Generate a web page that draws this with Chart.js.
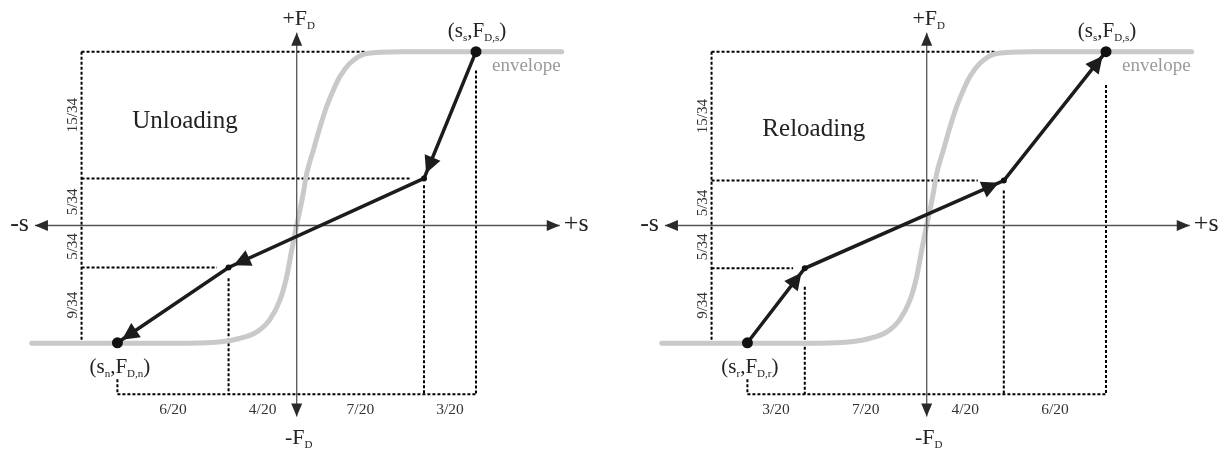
<!DOCTYPE html>
<html><head><meta charset="utf-8">
<script src="https://cdn.jsdelivr.net/npm/chart.js@4.4.0/dist/chart.umd.min.js"></script>
<style>
html,body{margin:0;padding:0;background:#fff;width:1227px;height:452px;overflow:hidden}
canvas{position:absolute;top:0}
#c1{left:0}#c2{left:613px}
</style></head><body>
<canvas id="c1" width="613" height="452"></canvas>
<canvas id="c2" width="614" height="452"></canvas>
<script>
// ---- data (s in units of 1/20, F_D in units of 1/34) ----
const envS = [-14.78, -6.0, -4.1, -3.2, -2.2, -1.5, -0.93, -0.56, -0.28, 0, 0.18, 0.37, 0.56, 0.93, 1.3, 1.67, 2.04, 2.41, 2.97, 3.9, 5.8, 14.78];
const envF = [-13.75, -13.75, -13.55, -13.2, -12.4, -11.0, -8.7, -6.0, -2.9, 0.05, 1.8, 3.8, 6.1, 8.8, 11.5, 13.9, 15.8, 17.4, 18.95, 20.1, 20.3, 20.3];

const unloadS = [10, 7.1, -3.8, -10];
const unloadF = [20.3, 5.5, -4.9, -13.7];
const reloadS = [-10, -6.8, 4.3, 10];
const reloadF = [-13.7, -5.0, 5.25, 20.3];

const sAxis = [-14.6, 14.67];
const fAxis = [22.5, -22.3];

const unloadGuides = [
  [[-12, 20.3], [3.9, 20.3]],
  [[-12, 20.3], [-12, -13.7]],
  [[-12, -13.7], [-11.1, -13.7]],
  [[-12, 5.5], [6.3, 5.5]],
  [[7.1, 4.7], [7.1, -19.7]],
  [[10, 18.1], [10, -19.7]],
  [[-12, -4.9], [-4.45, -4.9]],
  [[-3.8, -6.15], [-3.8, -19.7]],
  [[-10, -17.95], [-10, -19.7]],
  [[-10, -19.7], [10, -19.7]]
];
const reloadGuides = [
  [[-12, 20.3], [3.8, 20.3]],
  [[-12, 20.3], [-12, -13.7]],
  [[-12, -13.7], [-11.2, -13.7]],
  [[-12, 5.25], [2.85, 5.25]],
  [[4.3, 4.1], [4.3, -19.7]],
  [[10, 16.4], [10, -19.7]],
  [[-12, -5.0], [-7.45, -5.0]],
  [[-6.8, -7.15], [-6.8, -19.7]],
  [[-10, -17.95], [-10, -19.7]],
  [[-10, -19.7], [10, -19.7]]
];

const unloadSFrac = ['6/20', '4/20', '7/20', '3/20'];
const unloadSBounds = [-10, -3.8, 0, 7.1, 10];
const reloadSFrac = ['3/20', '7/20', '4/20', '6/20'];
const reloadSBounds = [-10, -6.8, 0, 4.3, 10];
const fFrac = ['15/34', '5/34', '5/34', '9/34'];
const unloadFBounds = [20.3, 5.5, 0, -4.9, -13.7];
const reloadFBounds = [20.3, 5.25, 0, -5.0, -13.7];

const FONT = '"Liberation Serif","Times New Roman",serif';

function pts(xs, ys) { return xs.map((x, i) => ({x: x, y: ys[i]})); }

function drawHead(ctx, fx, fy, tx, ty, len, hw, color) {
  const dx = tx - fx, dy = ty - fy, d = Math.hypot(dx, dy);
  const ux = dx / d, uy = dy / d;
  const bx = tx - ux * len, by = ty - uy * len;
  ctx.save();
  ctx.fillStyle = color;
  ctx.beginPath();
  ctx.moveTo(tx, ty);
  ctx.lineTo(bx - uy * hw, by + ux * hw);
  ctx.lineTo(bx + uy * hw, by - ux * hw);
  ctx.closePath();
  ctx.fill();
  ctx.restore();
}

// parts: [text, size, isSub]
function rich(ctx, parts, x, y, align, color) {
  ctx.save();
  ctx.fillStyle = color || '#222';
  ctx.textBaseline = 'alphabetic';
  ctx.textAlign = 'left';
  let w = 0;
  parts.forEach(p => { ctx.font = p[1] + 'px ' + FONT; w += ctx.measureText(p[0]).width; });
  let cx = align === 'center' ? x - w / 2 : (align === 'right' ? x - w : x);
  parts.forEach(p => {
    ctx.font = p[1] + 'px ' + FONT;
    ctx.fillText(p[0], cx, y + (p[2] ? 4 : 0));
    cx += ctx.measureText(p[0]).width;
  });
  ctx.restore();
}

function makeChart(id, cfg) {
  const guideSets = cfg.guides.map(g => ({
    data: pts([g[0][0], g[1][0]], [g[0][1], g[1][1]]),
    showLine: true, borderColor: '#000', borderWidth: 2, borderDash: [3, 2],
    pointRadius: 0, order: 4
  }));
  const datasets = [
    {
      data: pts(cfg.pathS, cfg.pathF), showLine: true, borderColor: '#1c1c1c', borderWidth: 3.5,
      pointRadius: cfg.pathS.map((_, i) => (i === 0 || i === cfg.pathS.length - 1) ? 5.5 : 3),
      pointBackgroundColor: '#111', pointBorderWidth: 0, order: 0
    },
    {
      data: pts(sAxis, [0, 0]), showLine: true, borderColor: '#555', borderWidth: 1.3, pointRadius: 0, order: 1
    },
    {
      data: pts([0, 0], fAxis), showLine: true, borderColor: '#555', borderWidth: 1.3, pointRadius: 0, order: 1
    },
    {
      data: pts(envS, envF), showLine: true, borderColor: '#c9c9c9', borderWidth: 5,
      borderCapStyle: 'round', cubicInterpolationMode: 'monotone', pointRadius: 0, order: 2
    }
  ].concat(guideSets);

  const deco = {
    id: 'deco',
    afterDatasetsDraw(chart) {
      const ctx = chart.ctx;
      const X = v => chart.scales.x.getPixelForValue(v);
      const Y = v => chart.scales.y.getPixelForValue(v);
      // axis arrowheads
      drawHead(ctx, X(0), Y(0), X(sAxis[0]), Y(0), 13, 5.5, '#2a2a2a');
      drawHead(ctx, X(0), Y(0), X(sAxis[1]), Y(0), 13, 5.5, '#2a2a2a');
      drawHead(ctx, X(0), Y(0), X(0), Y(fAxis[0]), 13, 5.5, '#2a2a2a');
      drawHead(ctx, X(0), Y(0), X(0), Y(fAxis[1]), 13, 5.5, '#2a2a2a');
      // path arrowheads
      const S = cfg.pathS, F = cfg.pathF;
      for (let i = 0; i < S.length - 1; i++) {
        const fx = X(S[i]), fy = Y(F[i]), tx = X(S[i + 1]), ty = Y(F[i + 1]);
        const d = Math.hypot(tx - fx, ty - fy);
        const off = 5.5;
        drawHead(ctx, fx, fy, tx - (tx - fx) / d * off, ty - (ty - fy) / d * off, 17, 8.5, '#1c1c1c');
      }
      // title
      rich(ctx, [[cfg.title, 25]], X(cfg.titleS), Y(cfg.titleF), 'center', '#222');
      // top point label
      const top = cfg.topIdx, bot = cfg.botIdx;
      rich(ctx, [['(s', 21], ['s', 11, 1], [',F', 21], ['D,s', 11, 1], [')', 21]],
        X(S[top]) + 1, Y(F[top]) - 15, 'center', '#222');
      rich(ctx, [['envelope', 19]], X(S[top]) + 16, Y(F[top]) + 19, 'left', '#9a9a9a');
      rich(ctx, [['(s', 21], [cfg.botSub, 11, 1], [',F', 21], ['D,' + cfg.botSub, 11, 1], [')', 21]],
        X(S[bot]) + 2.5, Y(F[bot]) + 30.5, 'center', '#222');
      // axis labels
      rich(ctx, [['+F', 22], ['D', 11, 1]], X(0) + 2, Y(fAxis[0]) - 8, 'center', '#222');
      rich(ctx, [['-F', 22], ['D', 11, 1]], X(0) + 2, Y(fAxis[1]) + 28, 'center', '#222');
      rich(ctx, [['-s', 26]], X(sAxis[0]) - 6, Y(0) + 6, 'right', '#222');
      rich(ctx, [['+s', 26]], X(sAxis[1]) + 4, Y(0) + 6, 'left', '#222');
      // bottom fractions
      for (let i = 0; i < cfg.sFrac.length; i++) {
        const cx = (X(cfg.sBounds[i]) + X(cfg.sBounds[i + 1])) / 2;
        rich(ctx, [[cfg.sFrac[i], 15.5]], cx, Y(-19.7) + 20, 'center', '#333');
      }
      // rotated fractions
      for (let i = 0; i < fFrac.length; i++) {
        const cy = (Y(cfg.fBounds[i]) + Y(cfg.fBounds[i + 1])) / 2;
        ctx.save();
        ctx.translate(X(-12) - 5, cy);
        ctx.rotate(-Math.PI / 2);
        rich(ctx, [[fFrac[i], 15]], 0, 0, 'center', '#333');
        ctx.restore();
      }
    }
  };

  return new Chart(document.getElementById(id), {
    type: 'scatter',
    data: {datasets: datasets},
    options: {
      responsive: false, animation: false, devicePixelRatio: 1,
      layout: {padding: 0, autoPadding: false},
      plugins: {legend: {display: false}, tooltip: {enabled: false}},
      scales: {
        x: {type: 'linear', display: false, min: cfg.xMin, max: cfg.xMax},
        y: {type: 'linear', display: false, min: -26.46, max: 26.34}
      }
    },
    plugins: [deco]
  });
}

makeChart('c1', {
  pathS: unloadS, pathF: unloadF, guides: unloadGuides, title: 'Unloading',
  titleS: -6.23, titleF: 11.36, topIdx: 0, botIdx: 3, botSub: 'n',
  sFrac: unloadSFrac, sBounds: unloadSBounds, fBounds: unloadFBounds,
  xMin: -16.548, xMax: 17.641
});
makeChart('c2', {
  pathS: reloadS, pathF: reloadF, guides: reloadGuides, title: 'Reloading',
  titleS: -6.3, titleF: 10.4, topIdx: 3, botIdx: 0, botSub: 'r',
  sFrac: reloadSFrac, sBounds: reloadSBounds, fBounds: reloadFBounds,
  xMin: -17.496, xMax: 16.748
});
</script>
</body></html>
